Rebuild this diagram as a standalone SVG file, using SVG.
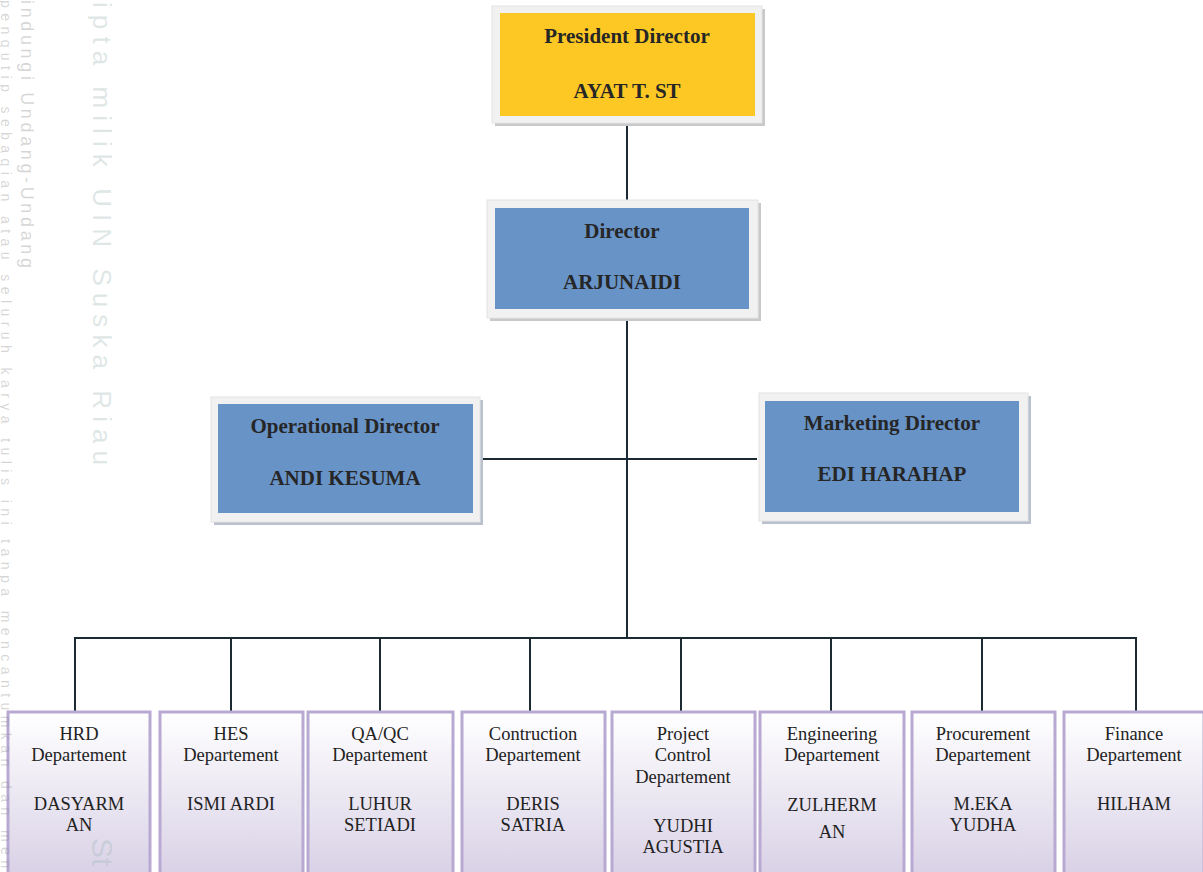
<svg xmlns="http://www.w3.org/2000/svg" width="1203" height="872" viewBox="0 0 1203 872">
  <defs>
    <linearGradient id="deptGrad" x1="0" y1="0" x2="0" y2="1">
      <stop offset="0" stop-color="#ffffff"/>
      <stop offset="1" stop-color="#d7cfe5"/>
    </linearGradient>
    <style>
      .wm { font-family: "Liberation Sans", Arial, sans-serif; fill: #9fb7b7; fill-opacity: 0.35; }
      .wm2 { font-family: "Liberation Sans", Arial, sans-serif; fill: #8a8a8a; fill-opacity: 0.35; }
      .frame { fill: #f1f1f1; stroke: #e4e4e4; stroke-width: 1; }
      .shadow { fill: #c9c9c9; }
      .shadowb { fill: #b9c1cc; }
      .blue { fill: #6893c7; }
      .yellow { fill: #fdc823; }
      .title { font-family: "Liberation Serif", "Times New Roman", serif; font-weight: bold; font-size: 21px; fill: #262626; text-anchor: middle; }
      .dept { fill: url(#deptGrad); stroke: #b8a9d3; stroke-width: 3; }
      .dtext { font-family: "Liberation Serif", "Times New Roman", serif; font-size: 18.5px; fill: #222222; text-anchor: middle; }
      .conn { stroke: #1c2b33; stroke-width: 2; fill: none; }
    </style>
  </defs>

  <rect x="0" y="0" width="1203" height="872" fill="#ffffff"/>

  <g id="connectors">
    <line class="conn" x1="627" y1="116" x2="627" y2="202"/>
    <line class="conn" x1="627" y1="318" x2="627" y2="638"/>
    <line class="conn" x1="483" y1="459" x2="757" y2="459"/>
    <line class="conn" x1="74" y1="638" x2="1137" y2="638"/>
    <line class="conn" x1="75" y1="638" x2="75" y2="711"/>
    <line class="conn" x1="231" y1="638" x2="231" y2="711"/>
    <line class="conn" x1="380" y1="638" x2="380" y2="711"/>
    <line class="conn" x1="530" y1="638" x2="530" y2="711"/>
    <line class="conn" x1="681" y1="638" x2="681" y2="711"/>
    <line class="conn" x1="831" y1="638" x2="831" y2="711"/>
    <line class="conn" x1="982" y1="638" x2="982" y2="711"/>
    <line class="conn" x1="1136" y1="638" x2="1136" y2="711"/>
  </g>

  <g id="president">
    <rect class="shadow" x="495" y="9" width="270" height="117"/>
    <rect class="frame" x="492" y="6" width="270" height="117"/>
    <rect class="yellow" x="500" y="13" width="255" height="103"/>
    <text class="title" x="627" y="43">President Director</text>
    <text class="title" x="627" y="98">AYAT T. ST</text>
  </g>

  <g id="director">
    <rect class="shadow" x="490" y="203" width="271" height="118"/>
    <rect class="frame" x="487" y="200" width="271" height="118"/>
    <rect class="blue" x="495" y="208" width="254" height="101"/>
    <text class="title" x="622" y="238">Director</text>
    <text class="title" x="622" y="289">ARJUNAIDI</text>
  </g>

  <g id="operational">
    <rect class="shadowb" x="214" y="400" width="269" height="125"/>
    <rect class="frame" x="211" y="397" width="269" height="125"/>
    <rect class="blue" x="218" y="404" width="255" height="109"/>
    <text class="title" x="345" y="433">Operational Director</text>
    <text class="title" x="345" y="485">ANDI KESUMA</text>
  </g>

  <g id="marketing">
    <rect class="shadowb" x="762" y="396" width="269" height="128"/>
    <rect class="frame" x="759" y="393" width="269" height="128"/>
    <rect class="blue" x="765" y="401" width="254" height="111"/>
    <text class="title" x="892" y="430">Marketing Director</text>
    <text class="title" x="892" y="481">EDI HARAHAP</text>
  </g>

  <g id="hrd">
    <rect class="dept" x="8" y="712" width="142" height="170"/>
    <text class="dtext" x="79" y="740">HRD</text>
    <text class="dtext" x="79" y="761">Departement</text>
    <text class="dtext" x="79" y="810">DASYARM</text>
    <text class="dtext" x="79" y="831">AN</text>
  </g>

  <g id="hes">
    <rect class="dept" x="160" y="712" width="143" height="170"/>
    <text class="dtext" x="231" y="740">HES</text>
    <text class="dtext" x="231" y="761">Departement</text>
    <text class="dtext" x="231" y="810">ISMI ARDI</text>
  </g>

  <g id="qaqc">
    <rect class="dept" x="308" y="712" width="145" height="170"/>
    <text class="dtext" x="380" y="740">QA/QC</text>
    <text class="dtext" x="380" y="761">Departement</text>
    <text class="dtext" x="380" y="810">LUHUR</text>
    <text class="dtext" x="380" y="831">SETIADI</text>
  </g>

  <g id="construction">
    <rect class="dept" x="462" y="712" width="143" height="170"/>
    <text class="dtext" x="533" y="740">Contruction</text>
    <text class="dtext" x="533" y="761">Departement</text>
    <text class="dtext" x="533" y="810">DERIS</text>
    <text class="dtext" x="533" y="831">SATRIA</text>
  </g>

  <g id="project-control">
    <rect class="dept" x="612" y="712" width="143" height="170"/>
    <text class="dtext" x="683" y="740">Project</text>
    <text class="dtext" x="683" y="761">Control</text>
    <text class="dtext" x="683" y="783">Departement</text>
    <text class="dtext" x="683" y="832">YUDHI</text>
    <text class="dtext" x="683" y="853">AGUSTIA</text>
  </g>

  <g id="engineering">
    <rect class="dept" x="760" y="712" width="144" height="170"/>
    <text class="dtext" x="832" y="740">Engineering</text>
    <text class="dtext" x="832" y="761">Departement</text>
    <text class="dtext" x="832" y="811">ZULHERM</text>
    <text class="dtext" x="832" y="838">AN</text>
  </g>

  <g id="procurement">
    <rect class="dept" x="912" y="712" width="143" height="170"/>
    <text class="dtext" x="983" y="740">Procurement</text>
    <text class="dtext" x="983" y="761">Departement</text>
    <text class="dtext" x="983" y="810">M.EKA</text>
    <text class="dtext" x="983" y="831">YUDHA</text>
  </g>

  <g id="finance">
    <rect class="dept" x="1064" y="712" width="140" height="170"/>
    <text class="dtext" x="1134" y="740">Finance</text>
    <text class="dtext" x="1134" y="761">Departement</text>
    <text class="dtext" x="1134" y="810">HILHAM</text>
  </g>

  <!-- faint watermark text overlay -->
  <g id="watermark">
    <text class="wm" font-size="26" transform="translate(93,2) rotate(90)" textLength="463" lengthAdjust="spacing">ipta milik UIN Suska Riau</text>
    <text class="wm2" font-size="18" transform="translate(21,0) rotate(90)" textLength="268" lengthAdjust="spacing">indungi Undang-Undang</text>
    <text class="wm2" font-size="14" transform="translate(1,0) rotate(90)" textLength="868" lengthAdjust="spacing">pengutip sebagian atau seluruh karya tulis ini tanpa mencantumkan dan men</text>
    <text class="wm" font-size="30" transform="translate(92,838) rotate(90)">St</text>
  </g>
</svg>
